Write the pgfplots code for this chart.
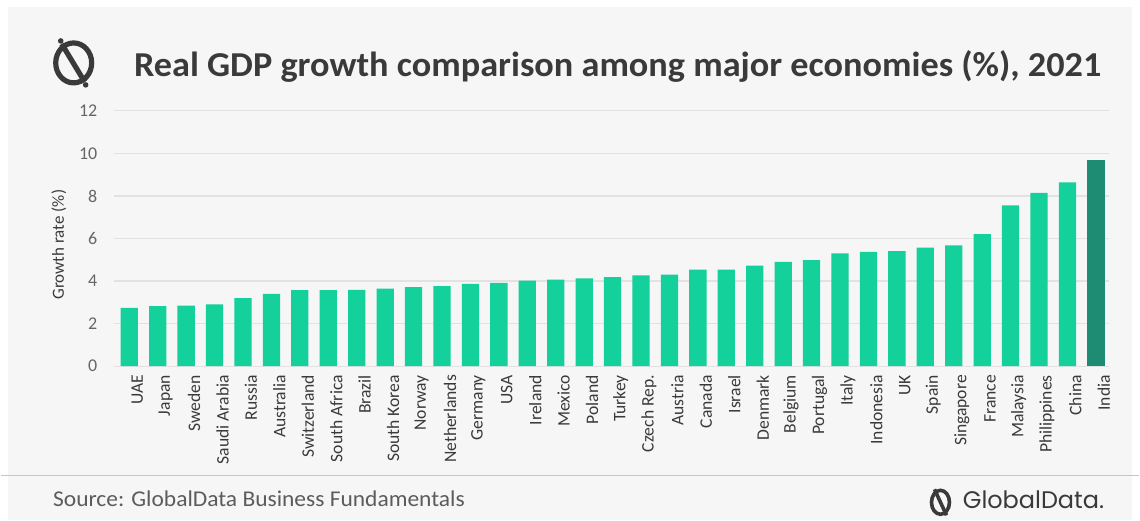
\documentclass[border=0pt]{standalone}
\usepackage{pgfplots}
\pgfplotsset{compat=1.18}
\usepackage{fontspec}
\setmainfont{Carlito}
\newfontfamily\logofont{Poppins}
\definecolor{panel}{HTML}{F6F6F6}
\definecolor{barc}{HTML}{14D19B}
\definecolor{india}{HTML}{1E8C73}
\definecolor{titlec}{HTML}{3A3A3A}
\definecolor{tickc}{HTML}{666666}
\definecolor{gridc}{HTML}{E2E2E2}
\begin{document}
\begin{tikzpicture}
\fill[white] (0,0) rectangle (570pt,260.5pt);
\fill[panel] (3.5pt,0pt) rectangle (566.5pt,257pt);
\draw[color=gray!45, line width=0.8pt] (0,22.5pt) -- (570pt,22.5pt);
\begin{scope}[x=0.5pt,y=-0.5pt,yshift=260.5pt]
  % title icon
  \draw[titlec, line width=2.6] (73,63) ellipse [x radius=18, y radius=20];
  \draw[titlec, line width=2.6] (61,44) -- (84,82);
  \fill[titlec] (60,41) circle (2.8);
  \fill[titlec] (85,85) circle (2.8);
  % footer icon
  \draw[titlec, line width=1.8] (941,503) ellipse [x radius=9, y radius=12];
  \draw[titlec, line width=1.8] (935,490) -- (947,516);
\end{scope}
\node[anchor=west, font=\bfseries\fontsize{17.5}{19}\selectfont, text=titlec, inner sep=0pt, xscale=1.037] at (66.5pt,227pt) {Real GDP growth comparison among major economies (\%), 2021};
\node[anchor=west, font=\fontsize{11.3}{13}\selectfont, text=tickc!90!black, inner sep=0pt, xscale=1.04] at (26pt,11pt) {Source: GlobalData Business Fundamentals};
\node[anchor=west, font=\logofont\fontsize{12}{14}\selectfont, text=titlec, inner sep=0pt] at (481.5pt,10.5pt) {GlobalData.};
\node[rotate=90, font=\fontsize{8.5}{10}\selectfont, text=titlec, inner sep=0pt] at (29pt,138pt) {Growth rate (\%)};
\begin{axis}[
  at={(56.5pt,77.15pt)}, anchor=south west,
  scale only axis, width=498.5pt, height=127.85pt,
  xmin=-0.55, xmax=34.47, ymin=0, ymax=12,
  ytick={0,2,...,12},
  xtick={0,...,34},
  xticklabels={UAE,Japan,Sweden,Saudi Arabia,Russia,Australia,Switzerland,South Africa,Brazil,South Korea,Norway,Netherlands,Germany,USA,Ireland,Mexico,Poland,Turkey,Czech Rep.,Austria,Canada,Israel,Denmark,Belgium,Portugal,Italy,Indonesia,UK,Spain,Singapore,France,Malaysia,Philippines,China,India},
  x tick label style={rotate=90, anchor=east, font=\fontsize{8.8}{10}\selectfont, text=titlec, inner sep=0pt, yshift=-4pt},
  y tick label style={font=\fontsize{9}{10}\selectfont, text=tickc, inner sep=0pt, xshift=-8pt},
  /pgf/number format/assume math mode=true,
  axis line style={draw=none},
  major tick style={draw=none},
  ymajorgrids, grid style={gridc, line width=0.6pt},
  ybar, bar width=8.65pt, bar shift=0pt,
  clip=false,
]
\addplot[fill=barc, draw=none] coordinates {
(0,2.74) (1,2.82) (2,2.85) (3,2.90) (4,3.20) (5,3.40) (6,3.58) (7,3.58) (8,3.59) (9,3.65)
(10,3.71) (11,3.76) (12,3.87) (13,3.91) (14,4.02) (15,4.07) (16,4.13) (17,4.18) (18,4.27) (19,4.30)
(20,4.54) (21,4.54) (22,4.73) (23,4.90) (24,4.99) (25,5.30) (26,5.37) (27,5.41) (28,5.57) (29,5.68)
(30,6.21) (31,7.56) (32,8.15) (33,8.64)};
\addplot[fill=india, draw=none] coordinates {(34,9.70)};
\end{axis}
\end{tikzpicture}
\end{document}
